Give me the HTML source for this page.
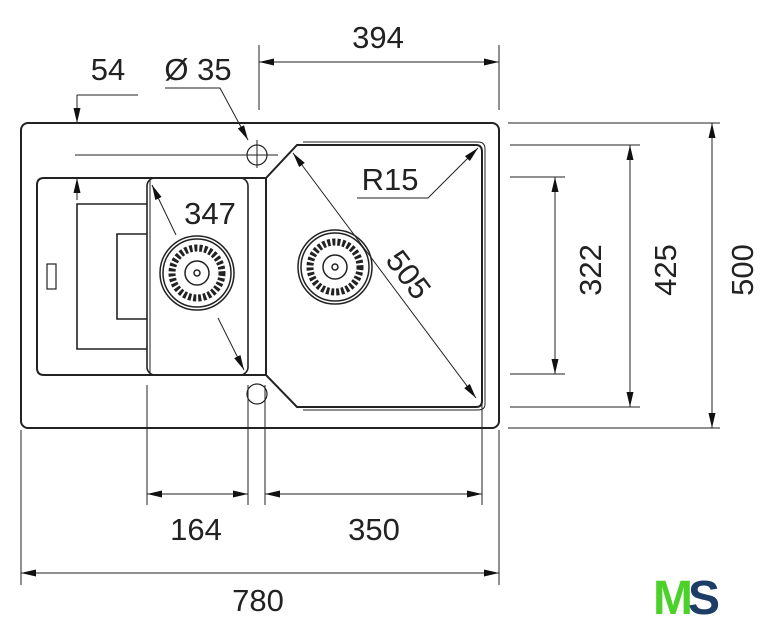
<!DOCTYPE html><html><head><style>body{margin:0;background:#fff}svg{display:block}</style></head><body>
<svg width="773" height="640" viewBox="0 0 773 640" xmlns="http://www.w3.org/2000/svg" font-family="Liberation Sans, sans-serif">
<defs><marker id="a" viewBox="0 0 14 7" refX="14" refY="3.5" markerWidth="15" markerHeight="7" orient="auto-start-reverse" markerUnits="userSpaceOnUse" preserveAspectRatio="none"><path d="M0,0 L14,3.5 L0,7z" fill="#111"/></marker></defs>
<g fill="none" stroke="#222">
<rect x="21" y="123" width="478" height="305" rx="7" stroke-width="2"/>
<path d="M37,185 Q37,178 44,178 H266 L297,145 H476 Q482,145 482,152 V401 Q482,407 476,407 H297 L266,375 H44 Q37,375 37,368Z" stroke-width="2"/>
<path d="M303,142 H478 Q485,142 485,149 V404 Q485,410 478,410 H303" stroke-width="1"/>
<path d="M266,178 V375" stroke-width="2"/>
<rect x="147" y="178" width="101" height="197" rx="8" stroke-width="1.6"/>
<path d="M150,180 V373" stroke-width="1"/>
<path d="M147,204 H77 V349 H147 M147,234 H117 V319 H147" stroke-width="1.6"/>
<rect x="47" y="264" width="9" height="25" stroke-width="1.2"/>
<circle cx="257" cy="155" r="10" stroke-width="1.2"/>
<circle cx="257" cy="394" r="10" stroke-width="1.2"/>
<path d="M75,155 H278 M257,140 V168" stroke-width="1"/>
<g stroke-width="1.5"><circle cx="197" cy="273" r="37"/><circle cx="197" cy="273" r="34"/><circle cx="197" cy="273" r="25" stroke-width="7" stroke-dasharray="3 2"/><circle cx="197" cy="273" r="12"/><circle cx="197" cy="273" r="3"/>
<circle cx="335" cy="267" r="37"/><circle cx="335" cy="267" r="34"/><circle cx="335" cy="267" r="25" stroke-width="7" stroke-dasharray="3 2"/><circle cx="335" cy="267" r="12"/><circle cx="335" cy="267" r="3"/></g>
<g stroke-width="1">
<path d="M259,45 V110 M499,45 V110" />
<path d="M259,62 H499" marker-start="url(#a)" marker-end="url(#a)"/>
<path d="M77,95 H138"/>
<path d="M77,95 V123" marker-end="url(#a)"/>
<path d="M77,200 V178" marker-end="url(#a)"/>
<path d="M165,88 H220 L248,140" marker-end="url(#a)"/>
<path d="M508,123 H720 M508,428 H720 M510,145 H640 M510,407 H640 M510,177 H565 M510,374 H565"/>
<path d="M712,123 V428" marker-start="url(#a)" marker-end="url(#a)"/>
<path d="M630,145 V407" marker-start="url(#a)" marker-end="url(#a)"/>
<path d="M555,177 V374" marker-start="url(#a)" marker-end="url(#a)"/>
<path d="M147,385 V505 M248,385 V505 M265,385 V505 M482,385 V505 M21,430 V585 M499,430 V585"/>
<path d="M147,494 H248" marker-start="url(#a)" marker-end="url(#a)"/>
<path d="M265,494 H482" marker-start="url(#a)" marker-end="url(#a)"/>
<path d="M21,573 H499" marker-start="url(#a)" marker-end="url(#a)"/>
<path d="M152,185 L176,235" marker-start="url(#a)"/>
<path d="M218,318 L244,370" marker-end="url(#a)"/>
<path d="M293,153 L476,398" marker-start="url(#a)" marker-end="url(#a)"/>
<path d="M357,198 H428 L478,148" marker-end="url(#a)"/>
</g></g>
<g font-size="31" fill="#222" text-anchor="middle">
<text x="378" y="48">394</text>
<text x="108" y="80">54</text>
<text x="198" y="80">Ø 35</text>
<text x="210" y="224">347</text>
<text x="390" y="190">R15</text>
<text x="196" y="540">164</text>
<text x="374" y="540">350</text>
<text x="258" y="611">780</text>
<text transform="translate(408,275) rotate(53)" y="10">505</text>
<text transform="translate(601,270) rotate(-90)">322</text>
<text transform="translate(676,270) rotate(-90)">425</text>
<text transform="translate(753,270) rotate(-90)">500</text>
</g>
<text x="684" y="614" font-size="48" font-weight="bold" fill="#4cd12a" text-anchor="middle" letter-spacing="-5">M<tspan fill="#1c3d66">S</tspan></text>
</svg></body></html>
